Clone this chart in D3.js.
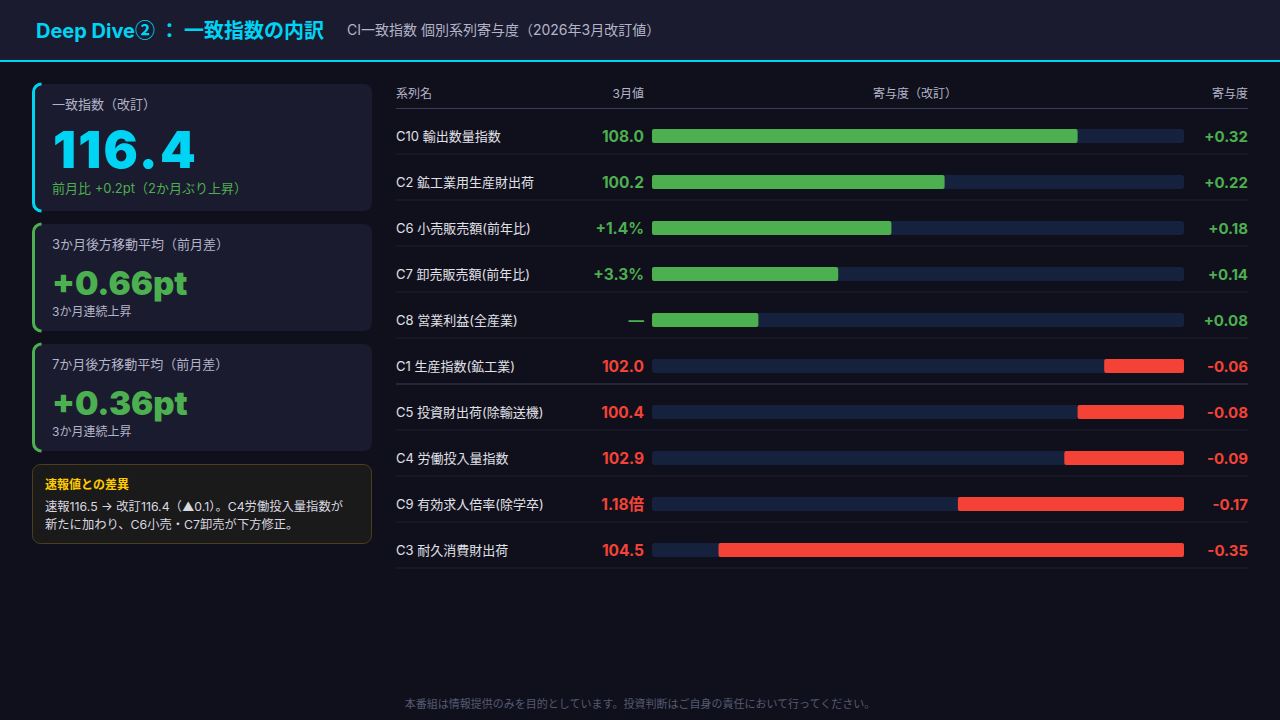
<!DOCTYPE html>
<html><head><meta charset="utf-8">
<script src="https://cdn.jsdelivr.net/npm/d3@7"></script>
<style>
html,body{margin:0;padding:0;background:#10101c;}
svg{display:block;font-family:"Inter","Noto Sans CJK JP",sans-serif;}
</style></head>
<body><svg id="c" width="1280" height="720"></svg>
<script>
const seriesNames = ["C10 輸出数量指数","C2 鉱工業用生産財出荷","C6 小売販売額(前年比)","C7 卸売販売額(前年比)","C8 営業利益(全産業)","C1 生産指数(鉱工業)","C5 投資財出荷(除輸送機)","C4 労働投入量指数","C9 有効求人倍率(除学卒)","C3 耐久消費財出荷"];
const marchValues = ["108.0","100.2","+1.4%","+3.3%","—","102.0","100.4","102.9","1.18倍","104.5"];
const contributions = [0.32,0.22,0.18,0.14,0.08,-0.06,-0.08,-0.09,-0.17,-0.35];
const headers = ["系列名","3月値","寄与度（改訂）","寄与度"];
const cards = [
  {label:"一致指数（改訂）", value:"116.4", sub:"前月比 +0.2pt（2か月ぶり上昇）", accent:"#00d4f5"},
  {label:"3か月後方移動平均（前月差）", value:"+0.66pt", sub:"3か月連続上昇", accent:"#4caf50"},
  {label:"7か月後方移動平均（前月差）", value:"+0.36pt", sub:"3か月連続上昇", accent:"#4caf50"}
];
const noteTitle = "速報値との差異";
const noteLines = ["速報116.5 → 改訂116.4（▲0.1）。C4労働投入量指数が","新たに加わり、C6小売・C7卸売が下方修正。"];

const GREEN="#4caf50", RED="#f44336", CYAN="#00d4f5";
const svg = d3.select("#c");
const JP = "'Inter','Noto Sans CJK JP',sans-serif";
const CJK = "'Noto Sans CJK JP',sans-serif";

// background & header
svg.append("rect").attr("width",1280).attr("height",720).attr("fill","#10101c");
svg.append("rect").attr("width",1280).attr("height",60).attr("fill","#1a1b2e");
svg.append("rect").attr("y",60).attr("width",1280).attr("height",2).attr("fill",CYAN);
const title = svg.append("text").attr("x",36).attr("y",38).attr("fill",CYAN).attr("font-size",20).attr("font-weight",700)
  .style("font-family",JP);
title.append("tspan").text("Deep Dive");
title.append("tspan").style("font-family",CJK).text("② ： 一致指数の内訳");
svg.append("text").attr("x",347).attr("y",35).attr("fill","#b4b4c8").attr("font-size",14)
  .style("font-family",JP).text("CI一致指数 個別系列寄与度（2026年3月改訂値）");

// cards
const cardY=[84,224,344], cardH=[127,107,107];
cards.forEach((c,i)=>{
  const g=svg.append("g").attr("transform",`translate(32,${cardY[i]})`);
  g.append("rect").attr("width",340).attr("height",cardH[i]).attr("rx",8).attr("fill","#1a1b2e");
  g.append("path").attr("d",`M8,0 A8,8 0 0 0 0,8 L0,${cardH[i]-8} A8,8 0 0 0 8,${cardH[i]}`)
    .attr("fill","none").attr("stroke",c.accent).attr("stroke-width",3).attr("transform","translate(1.5,0)");
  g.append("text").attr("x",20).attr("y",25).attr("fill","#b4b4c8").attr("font-size",13).style("font-family",JP).text(c.label);
  if(i===0){
    g.append("text").attr("x",21).attr("y",84).attr("fill",CYAN).attr("font-size",51).attr("font-weight",900)
      .attr("letter-spacing",2.2).style("font-family","Inter").text(c.value);
    g.append("text").attr("x",20).attr("y",109).attr("fill",GREEN).attr("font-size",13).style("font-family",JP).text(c.sub);
  } else {
    g.append("text").attr("x",20).attr("y",71).attr("fill",GREEN).attr("font-size",33).attr("font-weight",900)
      .style("font-family","Inter").text(c.value);
    g.append("text").attr("x",20).attr("y",92).attr("fill","#b4b4c8").attr("font-size",12).style("font-family",JP).text(c.sub);
  }
});
// note card
const ng=svg.append("g").attr("transform","translate(32,464)");
ng.append("rect").attr("x",0.5).attr("y",0.5).attr("width",339).attr("height",79).attr("rx",8)
  .attr("fill","#1b1a1a").attr("stroke","#4a3f1c");
ng.append("text").attr("x",13).attr("y",25).attr("fill","#ffcc00").attr("font-size",12).attr("font-weight",700).style("font-family",JP).text(noteTitle);
noteLines.forEach((t,i)=>ng.append("text").attr("x",13).attr("y",47+i*18).attr("fill","#d8d8e0").attr("font-size",12.3).style("font-family",JP).text(t));

// table
const rowH=46, tableTop=113;
const y = d3.scaleBand().domain(seriesNames).range([tableTop, tableTop+rowH*seriesNames.length]);
const trackX0=652, trackX1=1184;
const x = d3.scaleLinear().domain([0,0.4]).range([0,trackX1-trackX0]);

const hg=svg.append("g").style("font-family",JP).attr("font-size",12).attr("fill","#b4b4c8");
hg.append("text").attr("x",396).attr("y",98).text(headers[0]);
hg.append("text").attr("x",644).attr("y",98).attr("text-anchor","end").text(headers[1]);
hg.append("text").attr("x",(trackX0+trackX1)/2-3).attr("y",98).attr("text-anchor","middle").text(headers[2]);
hg.append("text").attr("x",1248).attr("y",98).attr("text-anchor","end").text(headers[3]);
svg.append("rect").attr("x",396).attr("y",108).attr("width",852).attr("height",1).attr("fill","#3a3a5c");

const rows = svg.selectAll("g.row").data(seriesNames.map((n,i)=>({n,v:marchValues[i],c:contributions[i],i})))
  .enter().append("g").attr("class","row").attr("transform",d=>`translate(0,${y(d.n)})`);
rows.append("rect").attr("x",396).attr("y",rowH/2+18-0.5).attr("width",852).attr("height",1)
  .attr("fill",d=>d.i===5?"#3a3a5c":"#1e1e30");
rows.append("text").attr("x",396).attr("y",rowH/2+5).attr("fill","#e0e0e8").attr("font-size",13)
  .style("font-family",JP).text(d=>d.n);
rows.append("text").attr("x",644).attr("y",rowH/2+6).attr("text-anchor","end")
  .attr("fill",d=>d.c>=0?GREEN:RED).attr("font-size",15.5).attr("font-weight",700)
  .style("font-family",JP).text(d=>d.v);
rows.append("rect").attr("x",trackX0).attr("y",rowH/2-7).attr("width",trackX1-trackX0).attr("height",14).attr("rx",3).attr("fill","#16213e");
rows.append("rect")
  .attr("x",d=>d.c>=0?trackX0:trackX1-x(-d.c))
  .attr("y",rowH/2-7).attr("width",d=>x(Math.abs(d.c))).attr("height",14).attr("rx",2)
  .attr("fill",d=>d.c>=0?GREEN:RED);
rows.append("text").attr("x",1248).attr("y",rowH/2+6).attr("text-anchor","end")
  .attr("fill",d=>d.c>=0?GREEN:RED).attr("font-size",15).attr("font-weight",700)
  .style("font-family","Inter").text(d=>(d.c>=0?"+":"-")+Math.abs(d.c).toFixed(2));

// footer
svg.append("text").attr("x",640).attr("y",708).attr("text-anchor","middle").attr("fill","#555a72").attr("font-size",11)
  .style("font-family",JP).text("本番組は情報提供のみを目的としています。投資判断はご自身の責任において行ってください。");
</script></body></html>
